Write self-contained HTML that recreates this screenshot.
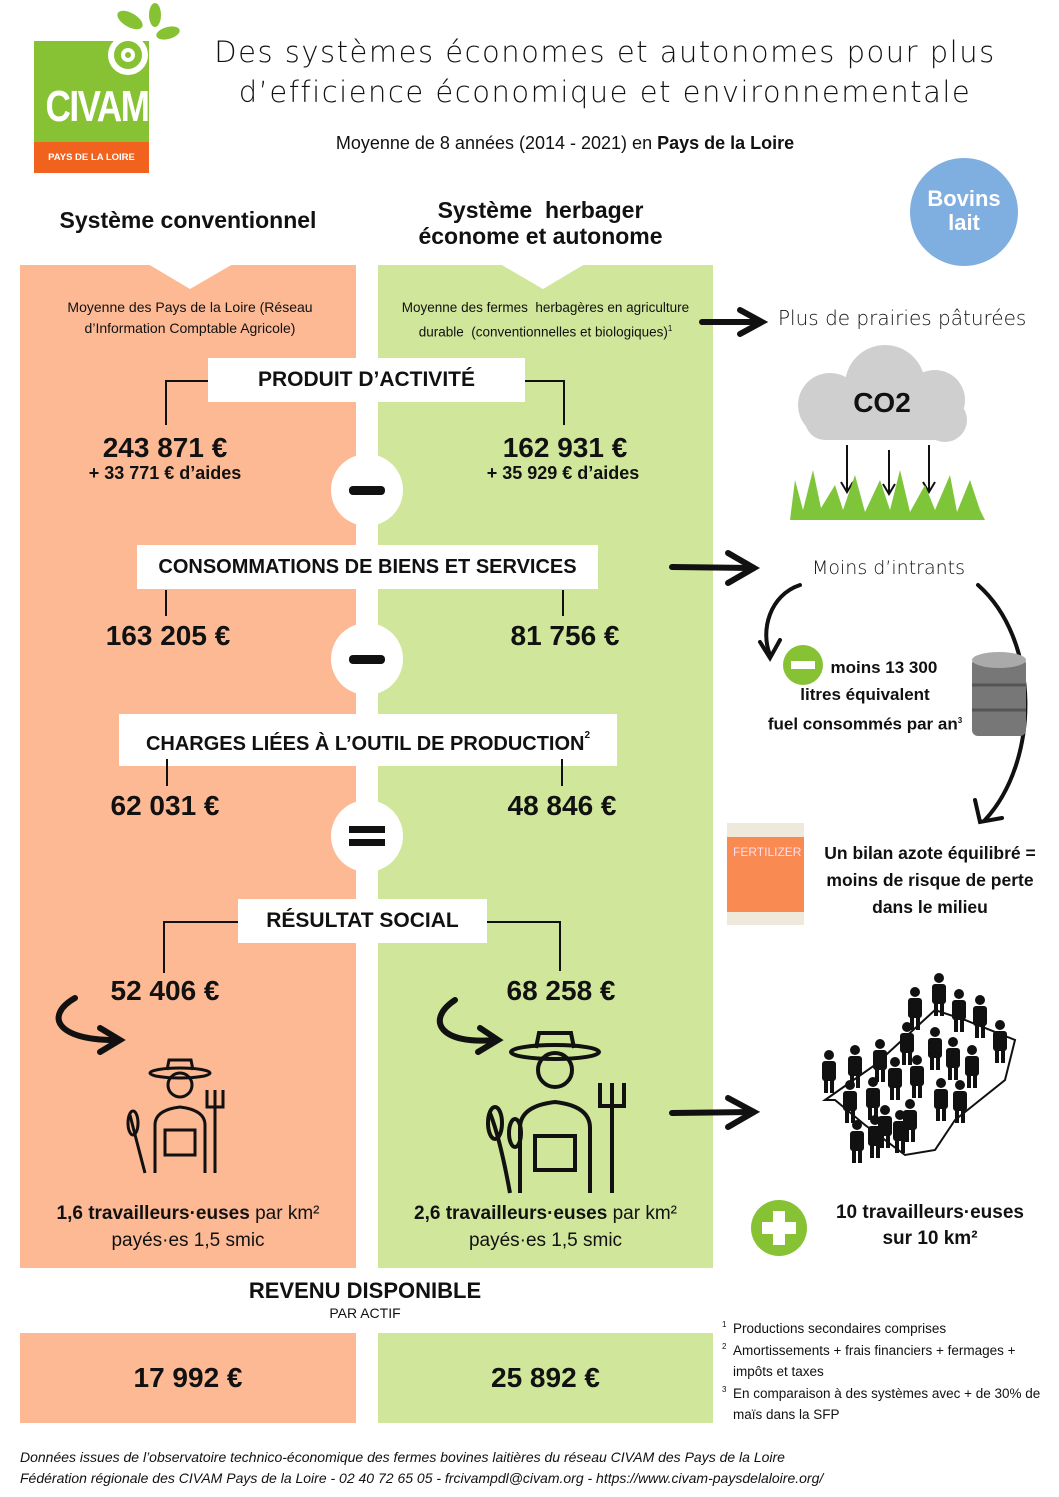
<!DOCTYPE html>
<html><head><meta charset="utf-8"><style>
body{margin:0;width:1059px;height:1497px;position:relative;background:#fff;font-family:"Liberation Sans","DejaVu Sans",sans-serif;color:#111;overflow:hidden}
.a{position:absolute}
.b{font-weight:bold}
.lbl{position:absolute;background:#fff;font-weight:bold;font-size:21px;text-align:center;line-height:44px;white-space:nowrap}
.num{position:absolute;font-weight:bold;font-size:28px;text-align:center}
.ln{position:absolute;background:#111}
.circ{position:absolute;width:72px;height:72px;border-radius:50%;background:#fff}
.hand{font-family:"DejaVu Sans",sans-serif;font-weight:300;white-space:nowrap}
</style></head><body>
<!-- logo -->
<div class="a" style="left:34px;top:41px;width:115px;height:101px;background:#86c234"></div>
<div class="a" style="left:34px;top:142px;width:115px;height:31px;background:#f0621e;color:#fff;font-size:9.5px;font-weight:bold;text-align:center;line-height:31px">PAYS DE LA LOIRE</div>
<div class="a b" style="left:34px;top:82px;width:115px;text-align:center;color:#fff;font-size:44px;letter-spacing:-2px;transform:scaleX(0.8)">CIVAM</div>
<svg class="a" style="left:100px;top:0" width="85" height="80"><circle cx="28" cy="55" r="17" fill="none" stroke="#fff" stroke-width="6"/><circle cx="28" cy="55" r="5" fill="none" stroke="#fff" stroke-width="4"/><ellipse cx="30" cy="20" rx="14" ry="7" fill="#86c234" transform="rotate(30 30 20)"/><ellipse cx="55" cy="15" rx="6" ry="12" fill="#86c234"/><ellipse cx="68" cy="33" rx="12" ry="6" fill="#86c234" transform="rotate(-15 68 33)"/></svg>
<!-- title -->
<div class="a hand" style="left:190px;top:32px;width:830px;text-align:center;font-size:29px;line-height:40px;letter-spacing:1.5px">Des systèmes économes et autonomes pour plus<br>d’efficience économique et environnementale</div>
<div class="a" style="left:300px;top:133px;width:530px;text-align:center;font-size:18px">Moyenne de 8 années (2014 - 2021) en <b>Pays de la Loire</b></div>
<div class="a b" style="left:20px;top:207px;width:336px;text-align:center;font-size:23px">Système conventionnel</div>
<div class="a b" style="left:378px;top:197px;width:325px;text-align:center;font-size:23px;line-height:26px">Système &nbsp;herbager<br>économe et autonome</div>
<div class="a b" style="left:910px;top:158px;width:108px;height:108px;border-radius:50%;background:#7faee0;color:#fff;text-align:center;font-size:22px;line-height:24px;padding-top:29px;box-sizing:border-box">Bovins<br>lait</div>
<!-- columns -->
<div class="a" style="left:20px;top:265px;width:336px;height:1003px;background:#fcb994"></div>
<div class="a" style="left:378px;top:265px;width:335px;height:1003px;background:#cfe69b"></div>
<svg class="a" style="left:0;top:264px" width="720" height="30"><polygon points="148,0 233,0 190,25" fill="#fff"/><polygon points="500,0 585,0 543,25" fill="#fff"/></svg>
<div class="a" style="left:40px;top:297px;width:300px;text-align:center;font-size:14px;line-height:21px">Moyenne des Pays de la Loire (Réseau d’Information Comptable Agricole)</div>
<div class="a" style="left:383px;top:297px;width:325px;text-align:center;font-size:13.5px;line-height:21px">Moyenne des fermes &nbsp;herbagères en agriculture durable &nbsp;(conventionnelles et biologiques)<sup style="font-size:8px">1</sup></div>
<!-- brackets -->
<div class="ln" style="left:165px;top:380px;width:45px;height:2px"></div><div class="ln" style="left:165px;top:380px;width:2px;height:45px"></div>
<div class="ln" style="left:525px;top:380px;width:40px;height:2px"></div><div class="ln" style="left:563px;top:380px;width:2px;height:45px"></div>
<div class="lbl" style="left:208px;top:358px;width:317px">PRODUIT D’ACTIVITÉ</div>
<div class="num" style="left:40px;top:432px;width:250px">243 871 €</div>
<div class="a b" style="left:40px;top:463px;width:250px;text-align:center;font-size:18px">+ 33 771 € d’aides</div>
<div class="num" style="left:440px;top:432px;width:250px">162 931 €</div>
<div class="a b" style="left:438px;top:463px;width:250px;text-align:center;font-size:18px">+ 35 929 € d’aides</div>
<div class="circ" style="left:331px;top:454px"></div><div class="ln" style="left:349px;top:486px;width:36px;height:9px;border-radius:4px"></div>
<div class="lbl" style="left:137px;top:545px;width:461px;font-size:20px">CONSOMMATIONS DE BIENS ET SERVICES</div>
<div class="ln" style="left:165px;top:590px;width:2px;height:26px"></div><div class="ln" style="left:562px;top:590px;width:2px;height:26px"></div>
<div class="num" style="left:43px;top:620px;width:250px">163 205 €</div>
<div class="num" style="left:440px;top:620px;width:250px">81 756 €</div>
<div class="circ" style="left:331px;top:623px"></div><div class="ln" style="left:349px;top:655px;width:36px;height:9px;border-radius:4px"></div>
<div class="lbl" style="left:119px;top:714px;width:498px;font-size:20px">CHARGES LIÉES À L’OUTIL DE PRODUCTION<sup style="font-size:10px;vertical-align:12px">2</sup></div>
<div class="ln" style="left:166px;top:759px;width:2px;height:27px"></div><div class="ln" style="left:561px;top:759px;width:2px;height:27px"></div>
<div class="num" style="left:40px;top:790px;width:250px">62 031 €</div>
<div class="num" style="left:437px;top:790px;width:250px">48 846 €</div>
<div class="circ" style="left:331px;top:800px"></div><div class="ln" style="left:349px;top:826px;width:36px;height:7px"></div><div class="ln" style="left:349px;top:839px;width:36px;height:7px"></div>
<div class="ln" style="left:163px;top:921px;width:77px;height:2px"></div><div class="ln" style="left:163px;top:921px;width:2px;height:52px"></div>
<div class="ln" style="left:486px;top:921px;width:75px;height:2px"></div><div class="ln" style="left:559px;top:921px;width:2px;height:50px"></div>
<div class="lbl" style="left:238px;top:899px;width:249px">RÉSULTAT SOCIAL</div>
<div class="num" style="left:40px;top:975px;width:250px">52 406 €</div>
<div class="num" style="left:436px;top:975px;width:250px">68 258 €</div>
<!-- curved arrows -->
<svg class="a" style="left:0;top:990px" width="720" height="80" fill="none" stroke="#111" stroke-width="6" stroke-linecap="round"><path d="M75,8 C45,25 55,50 115,50"/><path d="M100,38 L120,50 L100,62"/><path d="M455,10 C425,30 440,55 495,50"/><path d="M480,38 L498,50 L478,62"/></svg>
<!-- farmers -->
<svg class="a" style="left:115px;top:1055px" width="120" height="120" fill="none" stroke="#111" stroke-width="3"><ellipse cx="65" cy="18" rx="30" ry="5"/><path d="M52,15 L54,5 L76,5 L78,15"/><circle cx="65" cy="30" r="12"/><path d="M40,118 L40,70 Q40,55 65,52 Q90,55 90,70 L90,118"/><rect x="50" y="75" width="30" height="25"/><path d="M100,118 L100,50 M92,35 L92,52 L108,52 L108,35 M100,35 L100,52"/><path d="M30,118 Q20,80 15,60"/><ellipse cx="18" cy="68" rx="5" ry="12"/></svg>
<svg class="a" style="left:470px;top:1028px" width="165" height="170" fill="none" stroke="#111" stroke-width="4"><ellipse cx="85" cy="24" rx="44" ry="7"/><path d="M66,20 L69,5 L101,5 L104,20"/><circle cx="85" cy="42" r="17"/><path d="M50,165 L50,100 Q50,78 85,74 Q120,78 120,100 L120,165"/><rect x="65" y="108" width="40" height="34"/><path d="M142,165 L142,75 M130,55 L130,78 L154,78 L154,55 M142,55 L142,78"/><path d="M40,165 Q30,110 20,85"/><ellipse cx="25" cy="95" rx="7" ry="16"/><ellipse cx="45" cy="105" rx="6" ry="14"/></svg>
<div class="a" style="left:20px;top:1200px;width:336px;text-align:center;font-size:19px;line-height:27px"><b>1,6 travailleurs·euses</b> par km²<br>payés·es 1,5 smic</div>
<div class="a" style="left:378px;top:1200px;width:335px;text-align:center;font-size:19px;line-height:27px"><b>2,6 travailleurs·euses</b> par km²<br>payés·es 1,5 smic</div>
<!-- revenu -->
<div class="a b" style="left:200px;top:1278px;width:330px;text-align:center;font-size:22px">REVENU DISPONIBLE</div>
<div class="a" style="left:200px;top:1305px;width:330px;text-align:center;font-size:14px">PAR ACTIF</div>
<div class="a b" style="left:20px;top:1333px;width:336px;height:90px;background:#fcb994;text-align:center;line-height:90px;font-size:28px">17 992 €</div>
<div class="a b" style="left:378px;top:1333px;width:335px;height:90px;background:#cfe69b;text-align:center;line-height:90px;font-size:28px">25 892 €</div>
<div class="a" style="left:720px;top:1318px;width:335px;font-size:13.5px;line-height:21.5px">
<div style="position:relative;padding-left:13px"><span style="position:absolute;left:2px;top:-4px;font-size:8px">1</span>Productions secondaires comprises</div>
<div style="position:relative;padding-left:13px"><span style="position:absolute;left:2px;top:-4px;font-size:8px">2</span>Amortissements + frais financiers + fermages + impôts et taxes</div>
<div style="position:relative;padding-left:13px"><span style="position:absolute;left:2px;top:-4px;font-size:8px">3</span>En comparaison à des systèmes avec + de 30% de maïs dans la SFP</div>
</div>
<div class="a" style="left:20px;top:1447px;font-size:14px;font-style:italic;line-height:21px">Données issues de l’observatoire technico-économique des fermes bovines laitières du réseau CIVAM des Pays de la Loire<br>Fédération régionale des CIVAM Pays de la Loire - 02 40 72 65 05 - frcivampdl@civam.org - https://www.civam-paysdelaloire.org/</div>
<!-- right side -->
<svg class="a" style="left:0;top:0" width="1059" height="1300" fill="none" stroke="#111" stroke-width="6" stroke-linecap="round">
<path d="M702,322 L760,322"/><path d="M740,310 L762,322 L740,334"/>
<path d="M672,567 L752,568"/><path d="M728,553 L754,568 L728,583"/>
<path d="M672,1113 L752,1112"/><path d="M728,1098 L754,1112 L728,1127"/>
<path d="M800,585 C770,595 760,630 770,655" stroke-width="4"/><path d="M760,642 L770,658 L780,640" stroke-width="4"/>
<path d="M978,585 C1040,640 1040,760 985,820" stroke-width="4"/><path d="M975,800 L980,822 L1002,818" stroke-width="4"/>
</svg>
<div class="a hand" style="left:778px;top:306px;font-size:20px">Plus de prairies pâturées</div>
<svg class="a" style="left:785px;top:340px" width="205" height="185"><g fill="#cfcfcf"><circle cx="45" cy="65" r="32"/><circle cx="100" cy="45" r="40"/><circle cx="150" cy="60" r="30"/><circle cx="160" cy="80" r="22"/><rect x="20" y="60" width="160" height="40" rx="20"/></g><text x="97" y="72" font-family="Liberation Sans" font-weight="bold" font-size="28" text-anchor="middle" fill="#111">CO2</text><g stroke="#111" stroke-width="2"><path d="M62,105 V150 M104,110 V152 M144,105 V150"/><path d="M56,142 L62,152 L68,142 M98,144 L104,154 L110,144 M138,142 L144,152 L150,142" fill="none"/></g><path d="M5,180 L10,140 L18,170 L28,130 L36,168 L50,145 L58,170 L70,135 L80,172 L95,140 L105,170 L115,130 L125,172 L140,145 L150,170 L165,135 L172,172 L185,140 L195,170 L200,180 Z" fill="#7ec53a"/></svg>
<div class="a hand" style="left:812px;top:557px;font-size:19px">Moins d’intrants</div>
<div class="a" style="left:783px;top:645px;width:40px;height:40px;border-radius:50%;background:#86c234"></div><div class="a" style="left:791px;top:661px;width:24px;height:8px;background:#fff"></div>
<div class="a b" style="left:760px;top:655px;width:210px;text-align:center;font-size:17px;line-height:26.5px">&nbsp;&nbsp;&nbsp;&nbsp;&nbsp;&nbsp;&nbsp;&nbsp;moins 13 300<br>litres équivalent<br>fuel consommés par an<sup style="font-size:8px">3</sup></div>
<svg class="a" style="left:968px;top:650px" width="62" height="92"><rect x="4" y="8" width="54" height="78" rx="6" fill="#777"/><ellipse cx="31" cy="10" rx="27" ry="8" fill="#aaa"/><path d="M4,35 H58 M4,60 H58" stroke="#555" stroke-width="3"/></svg>
<div class="a" style="left:727px;top:823px;width:77px;height:102px;background:#efe9dc"></div><div class="a" style="left:727px;top:837px;width:77px;height:75px;background:#f98a52;color:#fde;font-size:12px;padding:8px 0 0 6px;box-sizing:border-box">FERTILIZER</div>
<div class="a b" style="left:815px;top:840px;width:230px;text-align:center;font-size:17.5px;line-height:27px">Un bilan azote équilibré =<br>moins de risque de perte<br>dans le milieu</div>
<svg class="a" style="left:815px;top:970px" width="210" height="200"><defs><g id="p"><circle cx="0" cy="0" r="5"/><rect x="-7" y="6" width="14" height="20" rx="3"/><rect x="-5" y="24" width="4" height="14"/><rect x="1" y="24" width="4" height="14"/></g></defs><path d="M10,130 L60,95 L120,40 L150,50 L200,70 L190,110 L140,150 L120,180 L90,185 L50,155 L20,130 Z" fill="none" stroke="#111" stroke-width="2"/><g fill="#111">
<use href="#p" x="124" y="8"/><use href="#p" x="100" y="22"/><use href="#p" x="144" y="24"/><use href="#p" x="165" y="30"/><use href="#p" x="185" y="55"/>
<use href="#p" x="92" y="57"/><use href="#p" x="120" y="62"/><use href="#p" x="138" y="72"/><use href="#p" x="157" y="80"/>
<use href="#p" x="14" y="85"/><use href="#p" x="40" y="80"/><use href="#p" x="65" y="74"/><use href="#p" x="80" y="92"/><use href="#p" x="102" y="90"/>
<use href="#p" x="35" y="115"/><use href="#p" x="58" y="112"/><use href="#p" x="126" y="113"/><use href="#p" x="145" y="115"/>
<use href="#p" x="70" y="140"/><use href="#p" x="95" y="134"/><use href="#p" x="42" y="155"/><use href="#p" x="60" y="150"/><use href="#p" x="85" y="145"/></g></svg>
<div class="a" style="left:751px;top:1200px;width:56px;height:56px;border-radius:50%;background:#86c234"></div>
<div class="a" style="left:773px;top:1211px;width:12px;height:34px;background:#fff"></div><div class="a" style="left:762px;top:1222px;width:34px;height:12px;background:#fff"></div>
<div class="a b" style="left:815px;top:1200px;width:230px;text-align:center;font-size:19px;line-height:26px">10 travailleurs·euses<br>sur 10 km²</div>
</body></html>
